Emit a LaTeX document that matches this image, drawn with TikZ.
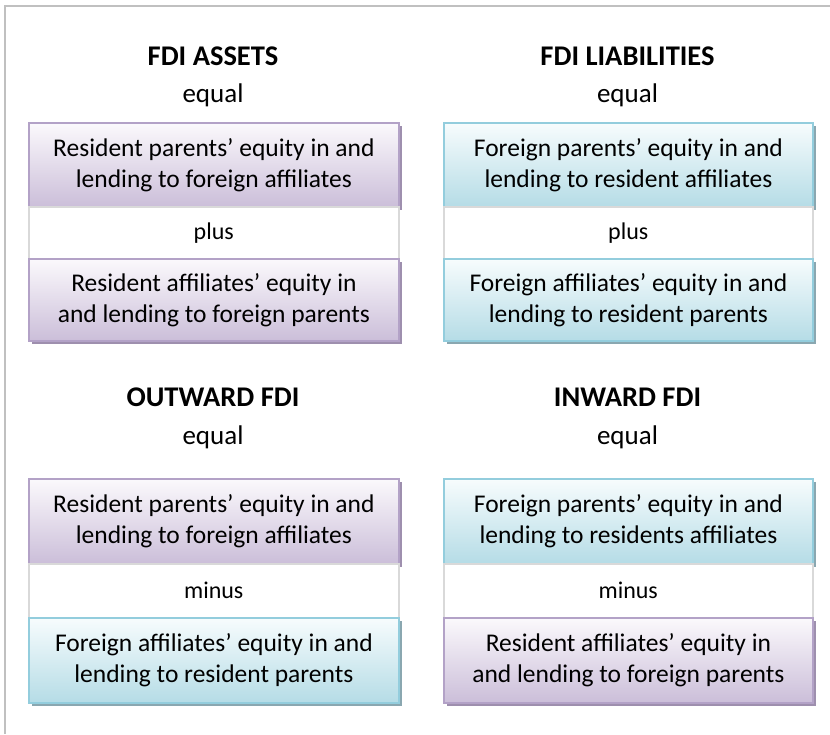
\documentclass[tikz,border=0pt]{standalone}
\usepackage{fontspec}
\setmainfont{Carlito}
\usetikzlibrary{shadows}
\definecolor{frameC}{HTML}{C0C0C0}
\definecolor{purpBorder}{HTML}{B3A2C7}
\definecolor{purpTop}{HTML}{FBF9FC}
\definecolor{purpBot}{HTML}{CBBED9}
\definecolor{purpShadow}{HTML}{9E8FAE}
\definecolor{blueBorder}{HTML}{93CDDD}
\definecolor{blueTop}{HTML}{F7FCFD}
\definecolor{blueBot}{HTML}{B5DCE6}
\definecolor{blueShadow}{HTML}{8AA7B0}
\definecolor{bandBorder}{HTML}{D9D9D9}
\tikzset{
  boxbase/.style={rectangle, line width=1.8pt, align=center, anchor=north west,
    inner sep=0pt, font=\fontsize{25.5}{31}\selectfont},
  purplebox/.style={boxbase, draw=purpBorder, top color=purpTop, bottom color=purpBot,
    drop shadow={shadow xshift=3pt, shadow yshift=-3.5pt, fill=purpShadow, opacity=1}},
  bluebox/.style={boxbase, draw=blueBorder, top color=blueTop, bottom color=blueBot,
    drop shadow={shadow xshift=3pt, shadow yshift=-3.5pt, fill=blueShadow, opacity=1}},
  band/.style={rectangle, draw=bandBorder, fill=white, line width=1.5pt, anchor=north west,
    inner sep=0pt, font=\fontsize{24}{29}\selectfont},
  titletext/.style={font=\fontsize{28.5}{33}\selectfont\bfseries, inner sep=0pt},
  eqtext/.style={font=\fontsize{27}{31}\selectfont, inner sep=0pt},
}
\begin{document}
\begin{tikzpicture}[x=1pt,y=-1pt]
\useasboundingbox (0,0) rectangle (830,734);
\draw[frameC, line width=1.5pt] (5,734) -- (5,6) -- (830,6);

% ---------- Top left: FDI ASSETS ----------
\node[titletext] (t1) at (213,56) {FDI ASSETS};
\node[eqtext] (e1) at (213,95) {equal};
\node[purplebox, minimum width=370pt, minimum height=84pt] (a1) at (28,122)
  {Resident parents’ equity in and\\lending to foreign affiliates};
\node[band, minimum width=370pt, minimum height=52pt] (p1) at (28,206) {plus};
\node[purplebox, minimum width=370pt, minimum height=82pt] (b1) at (28,258)
  {Resident affiliates’ equity in\\and lending to foreign parents};

% ---------- Top right: FDI LIABILITIES ----------
\node[titletext] (t2) at (627.5,56) {FDI LIABILITIES};
\node[eqtext] (e2) at (627.5,95) {equal};
\node[bluebox, minimum width=369pt, minimum height=84pt] (a2) at (443,122)
  {Foreign parents’ equity in and\\lending to resident affiliates};
\node[band, minimum width=369pt, minimum height=52pt] (p2) at (443,206) {plus};
\node[bluebox, minimum width=369pt, minimum height=82pt] (b2) at (443,258)
  {Foreign affiliates’ equity in and\\lending to resident parents};

% ---------- Bottom left: OUTWARD FDI ----------
\node[titletext] (t3) at (213,397) {OUTWARD FDI};
\node[eqtext] (e3) at (213,437) {equal};
\node[purplebox, minimum width=370pt, minimum height=85pt] (a3) at (28,478)
  {Resident parents’ equity in and\\lending to foreign affiliates};
\node[band, minimum width=370pt, minimum height=54pt] (p3) at (28,563) {minus};
\node[bluebox, minimum width=370pt, minimum height=85pt] (b3) at (28,617)
  {Foreign affiliates’ equity in and\\lending to resident parents};

% ---------- Bottom right: INWARD FDI ----------
\node[titletext] (t4) at (627.5,397) {INWARD FDI};
\node[eqtext] (e4) at (627.5,437) {equal};
\node[bluebox, minimum width=369pt, minimum height=85pt] (a4) at (443,478)
  {Foreign parents’ equity in and\\lending to residents affiliates};
\node[band, minimum width=369pt, minimum height=54pt] (p4) at (443,563) {minus};
\node[purplebox, minimum width=369pt, minimum height=85pt] (b4) at (443,617)
  {Resident affiliates’ equity in\\and lending to foreign parents};
\end{tikzpicture}
\end{document}
